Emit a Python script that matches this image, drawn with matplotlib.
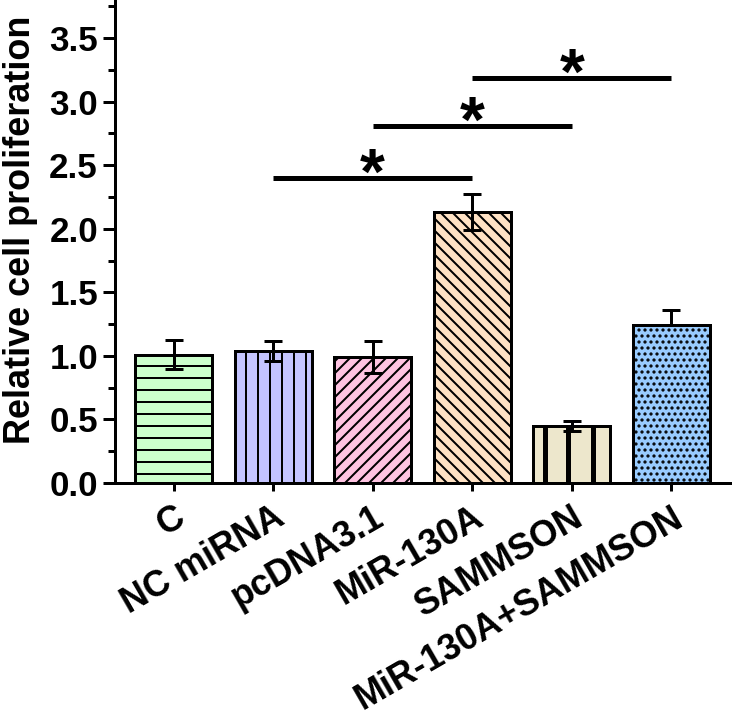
import matplotlib
matplotlib.use("Agg")
import matplotlib.pyplot as plt
from matplotlib.ticker import MultipleLocator
import numpy as np

plt.rcParams['font.family'] = ['Liberation Sans', 'DejaVu Sans']
plt.rcParams['font.weight'] = 'bold'
plt.rcParams['hatch.linewidth'] = 2.0

# ---- data ----
categories = ["C", "NC miRNA", "pcDNA3.1", "MiR-130A", "SAMMSON", "MiR-130A+SAMMSON"]
values = [1.01, 1.04, 0.99, 2.13, 0.45, 1.24]
err_upper = [0.115, 0.08, 0.125, 0.14, 0.04, 0.12]
err_lower = [0.115, 0.08, 0.125, 0.14, 0.04, 0.0]
colors = ["#CCFFCC", "#C4C4FF", "#FFC4E2", "#FFE2C4", "#EDE7CC", "#99CCFF"]
hatches = ["-", "|", "//", "\\\\", "", ".."]
comparisons = [(1, 3), (2, 4), (3, 5)]
comparison_heights = [2.40, 2.81, 3.19]
comparison_labels = ["*", "*", "*"]
y_ticks = [0.0, 0.5, 1.0, 1.5, 2.0, 2.5, 3.0, 3.5]

DPI = 72
fig = plt.figure(figsize=(735 / DPI, 724 / DPI), dpi=DPI)
ax = fig.add_axes([115 / 735, (724 - 483) / 724, (730 - 115) / 735, 483 / 724])

x = np.arange(len(categories))
bars = ax.bar(x, values, width=0.77, color=colors, edgecolor="black",
              linewidth=3, zorder=2)
for b, h in zip(bars, hatches):
    b.set_hatch(h)

# thick vertical stripes of the SAMMSON bar
sam = categories.index("SAMMSON")
stripe_offsets = [-0.265, -0.035, 0.215]
ax.vlines([sam + o for o in stripe_offsets], 0, values[sam], colors="black",
          linewidth=5, zorder=3)

ax.errorbar(x, values, yerr=[err_lower, err_upper], fmt="none", ecolor="black",
            elinewidth=3, capsize=9, capthick=3, zorder=4)

# significance lines
for (a, b), h, lab in zip(comparisons, comparison_heights, comparison_labels):
    ax.plot([a, b], [h, h], color="black", linewidth=5, solid_capstyle="butt",
            zorder=5, clip_on=False)
    ax.text((a + b) / 2, h - 0.125, lab, ha="center", va="baseline",
            fontsize=64, fontweight="bold", zorder=5)

ax.set_xlim(-0.59, 5.59)
ax.set_ylim(0, 3.8)
ax.set_yticks(y_ticks)
ax.set_yticklabels([f"{t:.1f}" for t in y_ticks])
ax.yaxis.set_minor_locator(MultipleLocator(0.25))
ax.set_xticks(x)
ax.set_xticklabels(categories, rotation=30, ha="right", rotation_mode="anchor",
                   va="top")

for s in ["top", "right"]:
    ax.spines[s].set_visible(False)
for s in ["left", "bottom"]:
    ax.spines[s].set_linewidth(3)

ax.tick_params(axis="y", which="major", length=12, width=3, labelsize=35, pad=5)
ax.tick_params(axis="y", which="minor", length=7, width=3)
ax.tick_params(axis="x", which="major", length=8, width=3, labelsize=36, pad=9)

ax.set_ylabel("Relative cell proliferation", fontsize=36, fontweight="bold")
ax.yaxis.set_label_coords(-0.125, 0.525)

fig.savefig("out.png", dpi=DPI)
